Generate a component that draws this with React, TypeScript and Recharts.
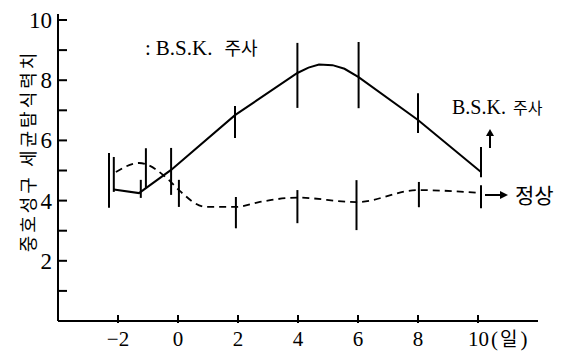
import React from 'react';
import { ComposedChart, Line, Scatter, ErrorBar, XAxis, YAxis } from 'recharts';

// days after start (x) and phagocytic index (y)
const bskDays = [-2.14, -1.3, -0.23, 1.9, 3.98, 4.35, 4.7, 5.15, 5.55, 6.02, 8.0, 10.1];
const bskValues = [4.37, 4.25, 5.02, 6.84, 8.24, 8.42, 8.52, 8.5, 8.38, 8.1, 6.68, 4.95];

const normalDays = [-2.07, -1.3, -0.3, 0.03, 0.93, 1.93, 2.7, 3.98, 5.95, 8.0, 10.1];
const normalValues = [4.95, 5.25, 4.68, 4.35, 3.79, 3.79, 3.95, 4.1, 3.95, 4.35, 4.25];

// vertical range bars
const barDays = [-2.3, -2.14, -1.24, -1.07, -0.23, 0.03, 1.9, 1.93, 3.98, 3.98, 6.02, 5.95, 8.0, 8.03, 10.1, 10.1];
const barCenters = [4.67, 4.87, 4.39, 5.08, 4.97, 4.24, 6.61, 3.6, 8.16, 3.8, 8.17, 3.85, 6.91, 4.2, 5.28, 4.13];
const barErrors = [0.91, 0.58, 0.3, 0.66, 0.78, 0.45, 0.53, 0.52, 1.08, 0.55, 1.1, 0.83, 0.66, 0.42, 0.5, 0.38];

const xTicks = [-2, 0, 2, 4, 6, 8, 10];
const yTicks = [1, 2, 3, 4, 5, 6, 7, 8, 9, 10];
const yLabelled = [2, 4, 6, 8, 10];

const bskData = bskDays.map((x, i) => ({ x, y: bskValues[i] }));
const normalData = normalDays.map((x, i) => ({ x, y: normalValues[i] }));
const barData = barDays.map((x, i) => ({ x, y: barCenters[i], err: barErrors[i] }));

const serif = '"Liberation Serif", "DejaVu Serif", serif';
const kr = '"Noto Sans CJK KR", sans-serif';

const YTick = (props: any) => {
  const { x, y, payload } = props;
  const v = payload.value;
  return (
    <g>
      <line x1={x} x2={x + 9} y1={y} y2={y} stroke="#000" strokeWidth={2} />
      {yLabelled.includes(v) && (
        <text x={x - 6} y={y + 8} textAnchor="end" fontFamily={serif} fontSize={23} fill="#000">
          {v}
        </text>
      )}
    </g>
  );
};

const XTick = (props: any) => {
  const { x, y, payload } = props;
  const v = payload.value;
  const label = v < 0 ? '\u2212' + Math.abs(v) : String(v);
  return (
    <g>
      <line x1={x} x2={x} y1={y} y2={y - 8} stroke="#000" strokeWidth={2} />
      {v === 10 ? (
        <text x={x - 10} y={y + 23} textAnchor="start" fontFamily={serif} fontSize={21} fill="#000">
          {label}
          <tspan dx={2}>(</tspan>
          <tspan fontFamily={kr} fontSize={19} dx={2}>일</tspan>
          <tspan dx={3}>)</tspan>
        </text>
      ) : (
        <text x={x} y={y + 23} textAnchor="middle" fontFamily={serif} fontSize={21} fill="#000">
          {label}
        </text>
      )}
    </g>
  );
};

export default function App() {
  return (
    <div style={{ position: 'absolute', left: 0, top: 0, width: 577, height: 351, background: '#fff' }}>
      <ComposedChart width={577} height={351} data={bskData} margin={{ top: 14, right: 39, left: 0, bottom: 0 }}>
        <XAxis
          type="number"
          dataKey="x"
          domain={[-4, 12]}
          ticks={xTicks}
          height={30}
          tickLine={false}
          tickSize={0}
          axisLine={{ stroke: '#000', strokeWidth: 2 }}
          tick={<XTick />}
          interval={0}
        />
        <YAxis
          type="number"
          domain={[0, 10.2]}
          ticks={yTicks}
          width={58}
          tickLine={false}
          tickSize={0}
          tickMargin={0}
          axisLine={{ stroke: '#000', strokeWidth: 2 }}
          tick={<YTick />}
          interval={0}
        />
        <Line
          data={bskData}
          dataKey="y"
          type="linear"
          stroke="#000"
          strokeWidth={2}
          dot={false}
          isAnimationActive={false}
        />
        <Line
          data={normalData}
          dataKey="y"
          type="monotone"
          stroke="#000"
          strokeWidth={1.8}
          strokeDasharray="7 5"
          dot={false}
          isAnimationActive={false}
        />
        <Scatter data={barData} dataKey="y" shape={() => null} isAnimationActive={false}>
          <ErrorBar dataKey="err" direction="y" width={0} stroke="#000" strokeWidth={2} isAnimationActive={false} />
        </Scatter>
      </ComposedChart>
      <svg width={577} height={351} style={{ position: 'absolute', left: 0, top: 0, pointerEvents: 'none' }}>
        <text
          transform="translate(35,151) rotate(-90)"
          textAnchor="middle"
          fontFamily={kr}
          fontSize={18}
          letterSpacing={3}
          fill="#000"
        >
          중호성구 세균탐식력치
        </text>
        <text x={145} y={55} fontFamily={serif} fontSize={21} fill="#000">
          :
          <tspan dx={5}>B.S.K.</tspan>
          <tspan fontFamily={kr} fontSize={18} dx={12}>주사</tspan>
        </text>
        <text x={452} y={114} fontFamily={serif} fontSize={20} fill="#000">
          B.S.K.
          <tspan fontFamily={kr} fontSize={16} dx={7}>주사</tspan>
        </text>
        <line x1={490} y1={148} x2={490} y2={134} stroke="#000" strokeWidth={2} />
        <polygon points="486,136 494,136 490,129" fill="#000" />
        <line x1={485} y1={195} x2={502} y2={195} stroke="#000" strokeWidth={2} />
        <polygon points="500,191 500,199 508,195" fill="#000" />
        <text x={515} y={203} fontFamily={kr} fontSize={21} fill="#000">
          정상
        </text>
      </svg>
    </div>
  );
}
